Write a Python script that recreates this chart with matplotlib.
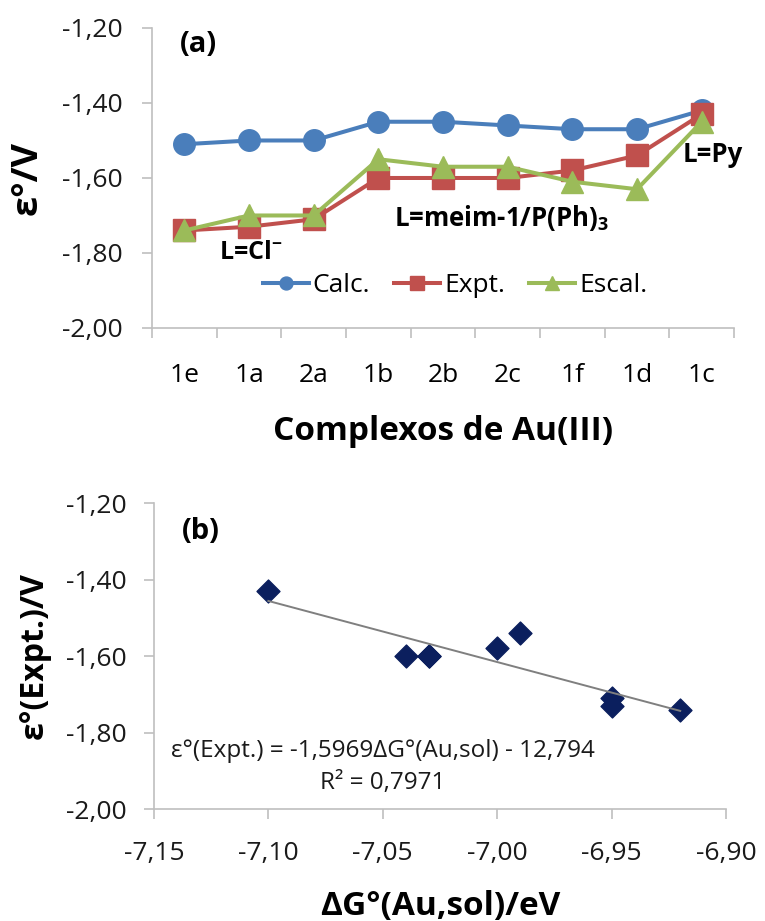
import matplotlib
matplotlib.use("Agg")
import matplotlib.pyplot as plt
from matplotlib.path import Path
import numpy as np

plt.rcParams['font.family'] = ['Open Sans', 'DejaVu Sans']
plt.rcParams['mathtext.fontset'] = 'custom'
plt.rcParams['mathtext.rm'] = 'Open Sans'
plt.rcParams['mathtext.bf'] = 'Open Sans:bold'

# Panel (a): reduction potentials per Au(III) complex
complexes = ["1e", "1a", "2a", "1b", "2b", "2c", "1f", "1d", "1c"]
calc = [-1.51, -1.50, -1.50, -1.45, -1.45, -1.46, -1.47, -1.47, -1.42]
expt = [-1.74, -1.73, -1.71, -1.60, -1.60, -1.60, -1.58, -1.54, -1.43]
escal = [-1.74, -1.70, -1.70, -1.55, -1.57, -1.57, -1.61, -1.63, -1.45]

# Panel (b): experimental potential vs. solvation free energy
dg_ausol = [-6.92, -6.95, -6.95, -7.04, -7.03, -7.03, -7.00, -6.99, -7.10]
eps_expt = [-1.74, -1.73, -1.71, -1.60, -1.60, -1.60, -1.58, -1.54, -1.43]
fit_slope = -1.5969
fit_intercept = -12.794
fit_r2 = 0.7971

yticks = [-2.00, -1.80, -1.60, -1.40, -1.20]

BLUE = "#4A7EBB"
RED = "#C0504D"
GREEN = "#9BBB59"
NAVY = "#0B1F5E"
SPINE = "#BFBFBF"
TXT = "#1a1a1a"

DIAMOND = Path([(0, 1), (1, 0), (0, -1), (-1, 0), (0, 1)],
               [Path.MOVETO, Path.LINETO, Path.LINETO, Path.LINETO, Path.CLOSEPOLY])


def comma(v, nd=2):
    return f"{v:.{nd}f}".replace(".", ",")


def style_axes(ax):
    for s in ("top", "right"):
        ax.spines[s].set_visible(False)
    for s in ("left", "bottom"):
        ax.spines[s].set_color(SPINE)
        ax.spines[s].set_linewidth(1.2)
    ax.tick_params(axis="both", colors=SPINE, labelcolor=TXT,
                   labelsize=19, length=7, width=1.2, direction="out")


fig = plt.figure(figsize=(7.65, 9.21), dpi=100)

# ---------- (a) ----------
ax1 = fig.add_axes([0.1987, 0.6439, 0.7608, 0.3257])
x = np.arange(len(complexes))
ax1.plot(x, calc, "-o", color=BLUE, lw=2.9, ms=15.5, label="Calc.", clip_on=False)
ax1.plot(x, expt, "-s", color=RED, lw=2.9, ms=16, label="Expt.", clip_on=False)
ax1.plot(x, escal, "-^", color=GREEN, lw=2.9, ms=16.5, label="Escal.", clip_on=False)
ax1.set_xlim(-0.5, len(complexes) - 0.5)
ax1.set_ylim(-2.00, -1.20)
ax1.set_yticks(yticks)
ax1.set_yticklabels([comma(v) for v in yticks])
ax1.set_xticks(np.arange(len(complexes) + 1) - 0.5)
ax1.set_xticklabels([])
ax1.set_xticks(x, minor=True)
ax1.set_xticklabels(complexes, minor=True)
style_axes(ax1)
ax1.tick_params(axis="y", pad=14)
ax1.tick_params(axis="x", which="minor", length=0, pad=25, labelsize=19)

ax1.set_ylabel("ε°/V", fontsize=26, fontweight="bold", labelpad=12)
ax1.set_xlabel("Complexos de Au(III)", fontsize=24, fontweight="bold", labelpad=20)

ax1.legend(loc="center left", bbox_to_anchor=(0.19, 0.14), ncol=3,
           frameon=False, fontsize=19, markerscale=0.6, borderaxespad=0,
           borderpad=0, handlelength=1.75, columnspacing=0.9,
           handletextpad=0.15)

ax1.text(0.048, 0.946, "(a)", transform=ax1.transAxes, fontsize=21,
         fontweight="bold", va="center", ha="left")
ax1.text(1.02, -1.800, "L=Cl$^{\\mathbf{-}}$", fontsize=18, fontweight="bold",
         ha="center", va="center")
ax1.text(4.9, -1.707, "L=meim-1/P(Ph)$_{\\mathbf{3}}$", fontsize=18.5,
         fontweight="bold", ha="center", va="center")
ax1.text(8.17, -1.537, "L=Py", fontsize=18.5, fontweight="bold",
         ha="center", va="center", clip_on=False)

# ---------- (b) ----------
ax2 = fig.add_axes([0.2013, 0.1216, 0.7477, 0.3322])
ax2.plot(dg_ausol, eps_expt, marker=DIAMOND, color=NAVY, ms=16.5, ls="none",
         clip_on=False)
fx = np.array([min(dg_ausol), max(dg_ausol)])
ax2.plot(fx, fit_slope * fx + fit_intercept, color="#7F7F7F", lw=1.4)
ax2.set_xlim(-7.15, -6.90)
ax2.set_ylim(-2.00, -1.20)
xt = [-7.15, -7.10, -7.05, -7.00, -6.95, -6.90]
ax2.set_xticks(xt)
ax2.set_xticklabels([comma(v) for v in xt])
ax2.set_yticks(yticks)
ax2.set_yticklabels([comma(v) for v in yticks])
style_axes(ax2)
ax2.tick_params(axis="y", pad=13)
ax2.tick_params(axis="x", pad=16)
ax2.set_ylabel("ε°(Expt.)/V", fontsize=23, fontweight="bold", labelpad=11)
ax2.set_xlabel("ΔG°(Au,sol)/eV", fontsize=24, fontweight="bold", labelpad=17)

ax2.text(0.049, 0.908, "(b)", transform=ax2.transAxes, fontsize=21,
         fontweight="bold", va="center", ha="left")
eq = (f"ε°(Expt.) = {comma(fit_slope, 4)}ΔG°(Au,sol) - {comma(-fit_intercept, 3)}\n"
      f"R² = {comma(fit_r2, 4)}")
ax2.text(0.40, 0.136, eq, transform=ax2.transAxes, fontsize=17.5,
         ha="center", va="center", linespacing=1.45, color=TXT)

fig.savefig("out.png", dpi=100)
